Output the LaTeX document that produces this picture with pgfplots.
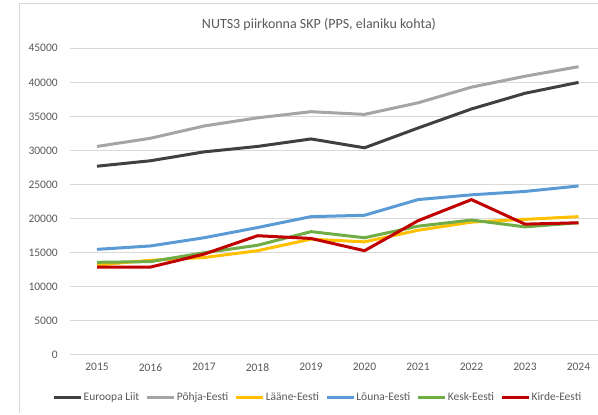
\documentclass[border=0pt]{standalone}
\usepackage{fontspec}
\setmainfont{Carlito}
\usepackage{pgfplots}
\pgfplotsset{compat=1.18}
\usepackage{pgfplotstable}

\definecolor{txt}{HTML}{595959}
\definecolor{gridc}{HTML}{D9D9D9}
\definecolor{cEL}{HTML}{404040}
\definecolor{cPohja}{HTML}{A5A5A5}
\definecolor{cLaane}{HTML}{FFC000}
\definecolor{cLouna}{HTML}{5B9BD5}
\definecolor{cKesk}{HTML}{70AD47}
\definecolor{cKirde}{HTML}{C00000}

% SKP elaniku kohta, PPS
\pgfplotstableread{
year  EL     Pohja  Laane  Louna  Kesk   Kirde
2015  27700  30600  13200  15500  13600  12900
2016  28500  31800  13900  16000  13700  12900
2017  29800  33600  14300  17200  15000  14800
2018  30600  34800  15300  18700  16100  17500
2019  31700  35700  17000  20300  18100  17100
2020  30400  35300  16600  20500  17200  15300
2021  33300  37000  18300  22800  18900  19700
2022  36100  39300  19500  23500  19800  22800
2023  38400  40900  19900  24000  18800  19200
2024  40000  42300  20300  24800  19400  19400
}\skp

\begin{document}
\begin{tikzpicture}[x=1pt,y=1pt]
% chart frame (cropped on the right)
\draw[gridc, line width=0.8pt] (19.5,2) -- (19.5,412) -- (600,412);
\node[text=txt, font=\fontsize{14}{16}\selectfont] at (319,390) {NUTS3 piirkonna SKP (PPS, elaniku kohta)};
\begin{axis}[
  at={(70.25pt,60pt)}, anchor=south west,
  scale only axis, width=535pt, height=306.7pt,
  xmin=2014.5, xmax=2024.5, ymin=0, ymax=45000,
  xtick={2015,...,2024}, ytick={0,5000,...,45000},
  scaled y ticks=false,
  /pgf/number format/1000 sep={},
  /pgf/number format/assume math mode=true,
  major tick length=0pt,
  axis line style={draw=none},
  ymajorgrids, grid style={gridc, line width=1pt},
  tick label style={text=txt, font=\fontsize{11.5}{13}\selectfont},
  xticklabel style={yshift=-5pt},
  yticklabel style={xshift=-9pt},
  legend columns=6,
  legend style={at={(0.462,-0.137)}, anchor=center, draw=none, fill=none,
    inner sep=0pt, text=txt, font=\fontsize{11.5}{13}\selectfont,
    nodes={inner sep=1pt},
    /tikz/every even column/.append style={column sep=5.5pt}},
  legend image code/.code={\draw[#1] (0pt,0pt) -- (27pt,0pt);},
  every axis plot/.append style={line width=3pt, line join=round},
]
\addplot[cEL] table[x=year,y=EL] {\skp};
\addplot[cPohja] table[x=year,y=Pohja] {\skp};
\addplot[cLaane] table[x=year,y=Laane] {\skp};
\addplot[cLouna] table[x=year,y=Louna] {\skp};
\addplot[cKesk] table[x=year,y=Kesk] {\skp};
\addplot[cKirde] table[x=year,y=Kirde] {\skp};
\legend{Euroopa Liit,Põhja-Eesti,Lääne-Eesti,Lõuna-Eesti,Kesk-Eesti,Kirde-Eesti}
\end{axis}
\pgfresetboundingbox
\path[use as bounding box] (0,0) rectangle (598,415);
\end{tikzpicture}
\end{document}
